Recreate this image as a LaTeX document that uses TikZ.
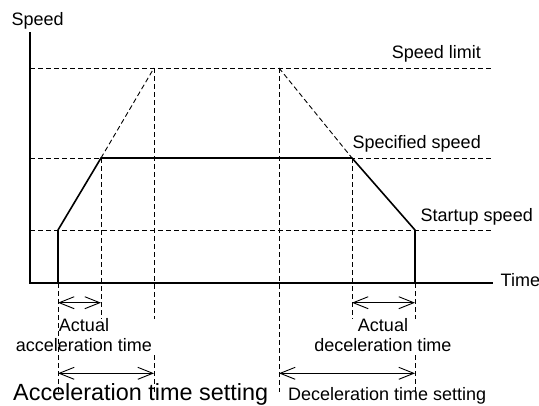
\documentclass[tikz,border=0pt]{standalone}
\usepackage{fontspec}
\setmainfont{Liberation Sans}
\usepackage{tikz}
\usetikzlibrary{arrows.meta}

\begin{document}
\begin{tikzpicture}[x=1pt, y=-1pt, font=\fontsize{18}{20}\selectfont,
		guide/.style={line width=0.9pt, dash pattern=on 5pt off 3pt},
		prof/.style={line width=1.6pt, line join=round},
		span/.style={line width=0.9pt, {Straight Barb[length=15pt,width=12pt]}-{Straight Barb[length=15pt,width=12pt]}}]
		\useasboundingbox (0,0) rectangle (539,405);
		\coordinate (top) at (30,32);
		\coordinate (o) at (30,283);
		\coordinate (right) at (493,283);
		\foreach \lvl/\ly in {lim/68,spec/158,start/230} {
			\coordinate (\lvl-l) at (30,\ly);
			\coordinate (\lvl-r) at (492,\ly);
			\draw[guide] (\lvl-l) -- (\lvl-r);
		}
		\foreach \p/\px/\py in {s0/58/283,s1/58/230,a1/101/158,a2/154/68,d2/279/68,d1/352/158,e1/415/230,e0/415/283} {
			\coordinate (\p) at (\px,\py);
		}
		\foreach \v/\vx/\vy in {b0/58/395,b1/101/319,b2/154/319,c2/279/392,c1/352/319,c0/415/319} {
			\coordinate (\v) at (\vx,\vy);
		}
		\coordinate (b2u) at (154,355);
		\coordinate (b2d) at (154,392);
		\coordinate (c0u) at (415,355);
		\coordinate (c0d) at (415,395);
		\draw[guide] (s0) -- (b0);
		\draw[guide] (a1) -- (b1);
		\draw[guide] (a2) -- (b2);
		\draw[guide] (b2u) -- (b2d);
		\draw[guide] (d2) -- (c2);
		\draw[guide] (d1) -- (c1);
		\draw[guide] (e0) -- (c0);
		\draw[guide] (c0u) -- (c0d);
		\draw[guide] (a1) -- (a2);
		\draw[guide] (d2) -- (d1);
		\draw[line width=1.2pt] (top) -- (o) -- (right);
		\draw[prof] (s0) -- (s1) -- (a1) -- (d1) -- (e1) -- (e0);
		\draw[span] (58,302.7) coordinate (aa-l) -- (101,302.7) coordinate (aa-r);
		\draw[span] (58,373.3) coordinate (as-l) -- (154,373.3) coordinate (as-r);
		\draw[span] (352,302.7) coordinate (ad-l) -- (415,302.7) coordinate (ad-r);
		\draw[span] (279,373.3) coordinate (ds-l) -- (415,373.3) coordinate (ds-r);
		\node[anchor=base west, inner sep=0pt] (speed) at (11.5,25) {Speed};
		\node[anchor=base west, inner sep=0pt] (time) at (500.5,286.7) {Time};
		\node[anchor=base east, inner sep=0pt] (limit) at (481,58.3) {Speed limit};
		\node[anchor=base east, inner sep=0pt] (specified) at (481,148.3) {Specified speed};
		\node[anchor=base east, inner sep=0pt] (startup) at (533,221.7) {Startup speed};
		\node[anchor=base, inner sep=0pt, align=center] (actacc) at (84,351.7) {Actual\\acceleration time};
		\node[anchor=base, inner sep=0pt, align=center] (actdec) at (383,351.7) {Actual\\deceleration time};
		\node[anchor=base west, inner sep=0pt, font=\fontsize{23.4}{26}\selectfont] (accset) at (13,400) {Acceleration time setting};
		\node[anchor=base west, inner sep=0pt] (decset) at (288,400.5) {Deceleration time setting};
	\end{tikzpicture}
\end{document}
